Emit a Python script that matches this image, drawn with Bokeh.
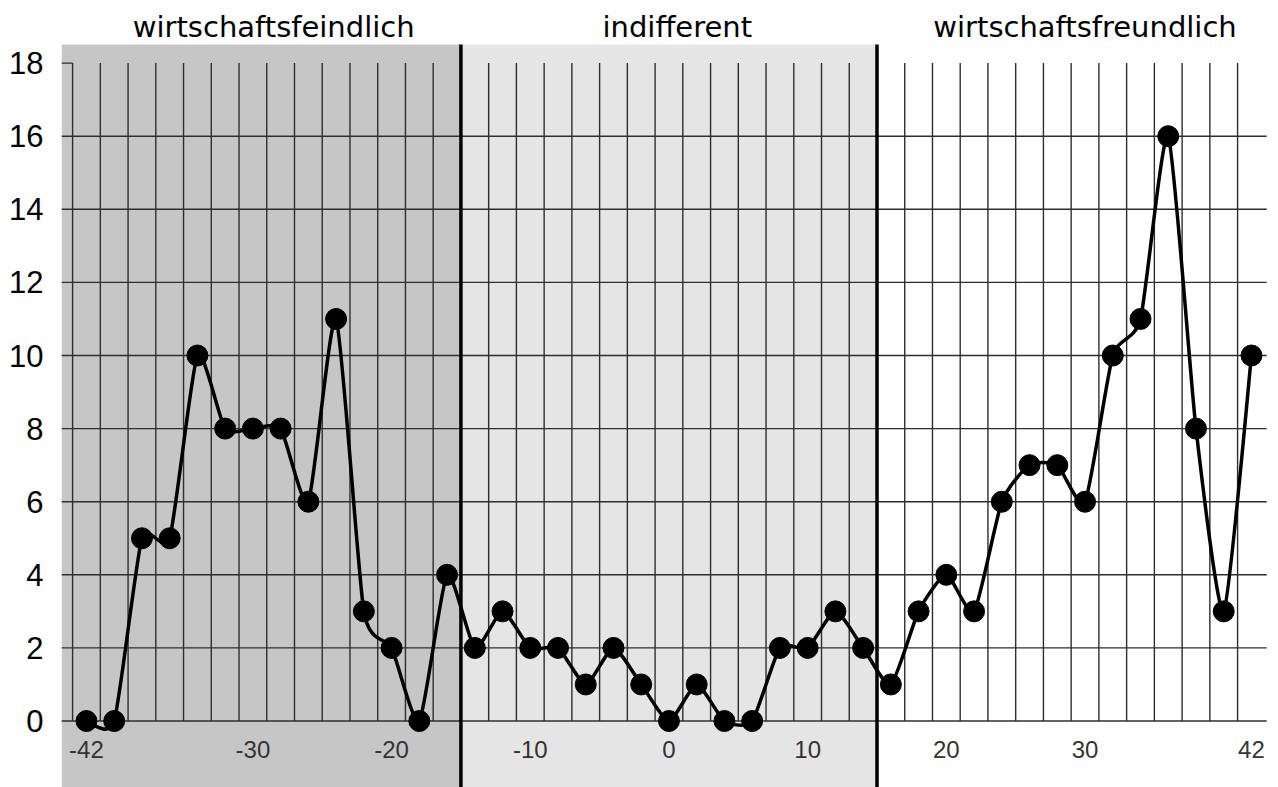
from bokeh.plotting import figure
from bokeh.models import FixedTicker, Range1d
from bokeh.core.properties import value
from bokeh.embed import file_html
from bokeh.resources import INLINE

# ---- data ----
x_vals = [-42, -40, -38, -36, -34, -32, -30, -28, -26, -24, -22, -20, -18, -16,
          -14, -12, -10, -8, -6, -4, -2, 0, 2, 4, 6, 8, 10, 12, 14,
          16, 18, 20, 22, 24, 26, 28, 30, 32, 34, 36, 38, 40, 42]
y_vals = [0, 0, 5, 5, 10, 8, 8, 8, 6, 11, 3, 2, 0, 4,
          2, 3, 2, 2, 1, 2, 1, 0, 1, 0, 0, 2, 2, 3, 2,
          1, 3, 4, 3, 6, 7, 7, 6, 10, 11, 16, 8, 3, 10]
region_names = ["wirtschaftsfeindlich", "indifferent", "wirtschaftsfreundlich"]
region_bounds = [-43.8, -15, 15, 43.95]
region_colors = ["#C6C6C6", "#E5E5E5", "#FFFFFF"]
x_tick_labels = [-42, -30, -20, -10, 0, 10, 20, 30, 42]
y_ticks = [0, 2, 4, 6, 8, 10, 12, 14, 16, 18]

X0, X1 = -43.8, 43.95
Y0, Y1 = -1.819, 19.713
SHADE_TOP = 18.51

p = figure(width=1278, height=787, output_backend="svg", toolbar_location=None,
           x_range=Range1d(X0, X1), y_range=Range1d(Y0, Y1),
           min_border_left=61, min_border_right=0, min_border_top=0, min_border_bottom=0)
p.outline_line_color = None
p.xgrid.visible = False
p.ygrid.visible = False
p.xaxis.visible = False
p.background_fill_color = "white"
p.border_fill_color = "white"

ya = p.yaxis[0]
ya.ticker = FixedTicker(ticks=y_ticks)
ya.axis_line_color = None
ya.major_tick_line_color = None
ya.minor_tick_line_color = None
ya.major_tick_out = 0
ya.major_tick_in = 0
ya.major_label_standoff = 18
ya.major_label_text_font = "Liberation Sans"
ya.major_label_text_font_size = "31px"
ya.major_label_text_color = "black"

# shaded regions
p.quad(left=region_bounds[:-1], right=region_bounds[1:], bottom=Y0, top=SHADE_TOP,
       fill_color=region_colors, line_color=None)

grid_col = "#2e2e2e"
# horizontal grid lines
hy = [v for v in y_ticks if v < 18]
p.segment(x0=[X0] * len(hy), y0=hy, x1=[43.1] * len(hy), y1=hy, line_color=grid_col, line_width=1.4)
p.segment(x0=[X0], y0=[18], x1=[-43], y1=[18], line_color=grid_col, line_width=1.4)
# vertical grid lines at odd values
vx = list(range(-43, 42, 2))
p.segment(x0=vx, y0=[0] * len(vx), x1=vx, y1=[18] * len(vx), line_color=grid_col, line_width=1.4)

# thick separators
p.segment(x0=region_bounds[1:3], y0=[Y0, Y0], x1=region_bounds[1:3], y1=[SHADE_TOP, SHADE_TOP],
          line_color="black", line_width=3.5)

# smooth curve (cardinal spline as cubic Bezier)
k = 0.1
n = len(x_vals)
bx0, by0, bx1, by1, cx0, cy0, cx1, cy1 = [], [], [], [], [], [], [], []
for i in range(n - 1):
    pm = max(i - 1, 0)
    pp = min(i + 2, n - 1)
    bx0.append(x_vals[i]); by0.append(y_vals[i])
    bx1.append(x_vals[i + 1]); by1.append(y_vals[i + 1])
    cx0.append(x_vals[i] + (x_vals[i + 1] - x_vals[pm]) * k)
    cy0.append(y_vals[i] + (y_vals[i + 1] - y_vals[pm]) * k)
    cx1.append(x_vals[i + 1] - (x_vals[pp] - x_vals[i]) * k)
    cy1.append(y_vals[i + 1] - (y_vals[pp] - y_vals[i]) * k)
p.bezier(x0=bx0, y0=by0, x1=bx1, y1=by1, cx0=cx0, cy0=cy0, cx1=cx1, cy1=cy1,
         line_color="black", line_width=3.5)
p.scatter(x_vals, y_vals, size=21, color="black", marker="circle")

# x tick labels
p.text(x=x_tick_labels, y=[-0.79] * len(x_tick_labels), text=[str(v) for v in x_tick_labels],
       text_font=value("Liberation Sans"), text_font_size="24px", text_color="#333333",
       text_align="center", text_baseline="alphabetic")

# region labels
p.text(x=[-28.5, 0.6, 30.0], y=[19.0] * 3, text=region_names,
       text_font=value("DejaVu Sans"), text_font_size="29px", text_color="black",
       text_align="center", text_baseline="alphabetic")

open("out.html", "w").write(file_html(p, INLINE))
